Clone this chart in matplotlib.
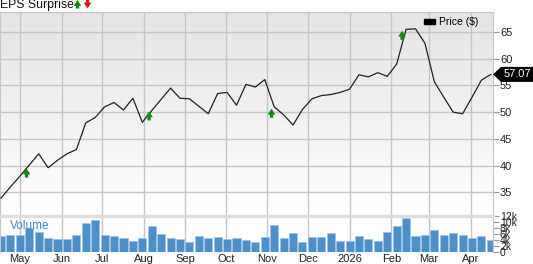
import numpy as np
import pandas as pd
import matplotlib
matplotlib.use('Agg')
import matplotlib.pyplot as plt
from matplotlib.patches import Polygon, Patch, FancyArrowPatch
from matplotlib.transforms import IdentityTransform
import matplotlib.dates as mdates

plt.rcParams['font.family'] = ['Liberation Sans', 'DejaVu Sans']

# weekly closing prices and volume (thousands of shares)
weeks = pd.date_range('2025-04-17', periods=53, freq='7D')
price = [33.9, 36.0, 38.0, 40.1, 42.2, 39.6, 41.0, 42.2, 43.0, 48.0,
         49.0, 51.0, 51.8, 50.4, 52.6, 48.1, 50.3, 52.4, 54.5, 52.6,
         52.5, 51.1, 49.7, 53.5, 53.7, 51.3, 55.2, 54.7, 56.1, 51.0,
         49.5, 47.6, 50.5, 52.5, 53.1, 53.3, 53.7, 54.3, 57.0, 56.6,
         57.4, 56.7, 59.0, 65.5, 65.6, 62.9, 55.7, 52.8, 50.0, 49.7,
         52.8, 56.0, 57.07]
volume = [5.3, 5.6, 5.6, 7.8, 6.5, 4.4, 4.3, 4.2, 5.5, 9.7,
          10.7, 5.6, 5.1, 4.6, 3.5, 4.7, 8.7, 5.9, 4.5, 4.3,
          3.3, 5.1, 4.7, 5.0, 4.1, 4.6, 4.0, 3.3, 5.0, 8.8,
          4.6, 6.3, 3.1, 5.0, 5.0, 6.1, 3.4, 3.5, 5.4, 4.2,
          3.7, 6.6, 8.7, 11.2, 5.2, 5.6, 7.2, 5.7, 6.2, 5.7,
          4.5, 5.2, 4.0]

# positive EPS surprises
surprise_dates = pd.to_datetime(['2025-05-06', '2025-08-05', '2025-11-04', '2026-02-09'])
surprise_level = [38.6, 49.3, 49.8, 64.4]

month_ticks = pd.date_range('2025-05-01', periods=12, freq='MS')
month_labels = ['May', 'Jun', 'Jul', 'Aug', 'Sep', 'Oct', 'Nov', 'Dec',
                '2026', 'Feb', 'Mar', 'Apr']
price_ticks = [35, 40, 45, 50, 55, 60, 65]
vol_ticks = [0, 2, 4, 6, 8, 10, 12]
vol_labels = ['0', '2k', '4k', '6k', '8k', '10k', '12k']

W, H = 533, 264
fig = plt.figure(figsize=(W / 100, H / 100), dpi=100)
ax = fig.add_axes([0, 48 / H, 493 / W, 204 / H])
axv = fig.add_axes([0, 12.5 / H, 493 / W, 35.5 / H], sharex=ax)

xmin = pd.Timestamp('2025-04-16 06:00')
xmax = pd.Timestamp('2026-04-17 14:00')
ax.set_xlim(xmin, xmax)
ax.set_ylim(30.56, 68.75)

# background gradient
grad = np.linspace(0, 1, 256).reshape(-1, 1)
ax.imshow(grad, cmap=matplotlib.colors.LinearSegmentedColormap.from_list(
    'bg', ['#ffffff', '#e4e4e4']), origin='lower', aspect='auto',
    extent=[mdates.date2num(xmin), mdates.date2num(xmax), 30.56, 68.75], zorder=0)

grid_c = '#c6c6c6'
for a in (ax, axv):
    a.set_xticks(month_ticks)
    a.grid(axis='x', color=grid_c, lw=1.0)
    a.set_axisbelow(True)
ax.grid(axis='y', color=grid_c, lw=1.0)

ax.plot(weeks, price, color='#222222', lw=0.9, zorder=3)

green = '#138a13'
arrow_kw = dict(arrowstyle='simple,head_width=0.65,head_length=0.5,tail_width=0.28',
                lw=0, mutation_scale=8.5, shrinkA=0, shrinkB=0)
for d, p in zip(surprise_dates, surprise_level):
    ax.annotate('', xy=(d, p + 0.85), xytext=(d, p - 0.85),
                arrowprops=dict(color=green, **arrow_kw), zorder=4)

ax.yaxis.tick_right()
ax.set_yticks(price_ticks)
ax.tick_params(axis='y', length=4, width=0.8, color='#999999', labelsize=8, pad=1,
               labelcolor='#222222')
ax.tick_params(axis='x', length=0, labelbottom=False)
for s in ['left', 'top', 'right']:
    ax.spines[s].set_color(grid_c)
ax.spines['bottom'].set_visible(False)

ax.legend(handles=[Patch(color='black')], labels=['Price ($)'], loc='upper right',
          bbox_to_anchor=(0.99, 1.02), frameon=False, fontsize=7.5,
          handlelength=1.1, handleheight=0.45, handletextpad=0.4)

axv.bar(weeks, volume, width=6, color='#4b8fcb', edgecolor='#9cc2e6', lw=0.5, zorder=2)
axv.set_ylim(0, 12)
axv.yaxis.tick_right()
axv.set_yticks(vol_ticks)
axv.set_yticklabels(vol_labels)
axv.tick_params(axis='y', length=4, width=0.8, color='#999999', labelsize=7.5, pad=1,
                labelcolor='#222222')
axv.set_xticklabels(month_labels)
axv.tick_params(axis='x', length=0, labelsize=8, pad=2, labelcolor='#222222')
axv.spines['top'].set_color('#dedede')
axv.spines['top'].set_linewidth(2.5)
axv.spines['right'].set_color(grid_c)
axv.spines['left'].set_color(grid_c)
axv.spines['bottom'].set_visible(False)
axv.text(0.02, 0.72, 'Volume', transform=axv.transAxes, color='#3f8bd0',
         fontsize=8.5, va='center', ha='left', zorder=5)

# title with surprise arrows
fig.text(0.0, 1.005, 'EPS Surprise', fontsize=8.8, va='top', ha='left', color='#111111')
fig.patches.append(FancyArrowPatch(
    (77.5 / W, 1 - 8.5 / H), (77.5 / W, 1 - 0.0 / H), transform=fig.transFigure,
    color=green, **arrow_kw))
fig.patches.append(FancyArrowPatch(
    (87.5 / W, 1 - 0.0 / H), (87.5 / W, 1 - 8.5 / H), transform=fig.transFigure,
    color='#e01818', **arrow_kw))

# last price tag
last = price[-1]
fig.canvas.draw()
yd = ax.transData.transform((mdates.date2num(weeks[-1]), last))[1]
xd = ax.transAxes.transform((1, 0))[0]
tag = Polygon([(xd, yd), (xd + 8, yd + 7.5), (W, yd + 7.5), (W, yd - 7.5), (xd + 8, yd - 7.5)],
              closed=True, fc='black', ec='none', transform=IdentityTransform())
fig.add_artist(tag)
fig.text((xd + 8 + W) / 2 / W, yd / H, f'{last:.2f}', color='white', fontsize=8,
         ha='center', va='center')

fig.savefig('out.png', dpi=100)
